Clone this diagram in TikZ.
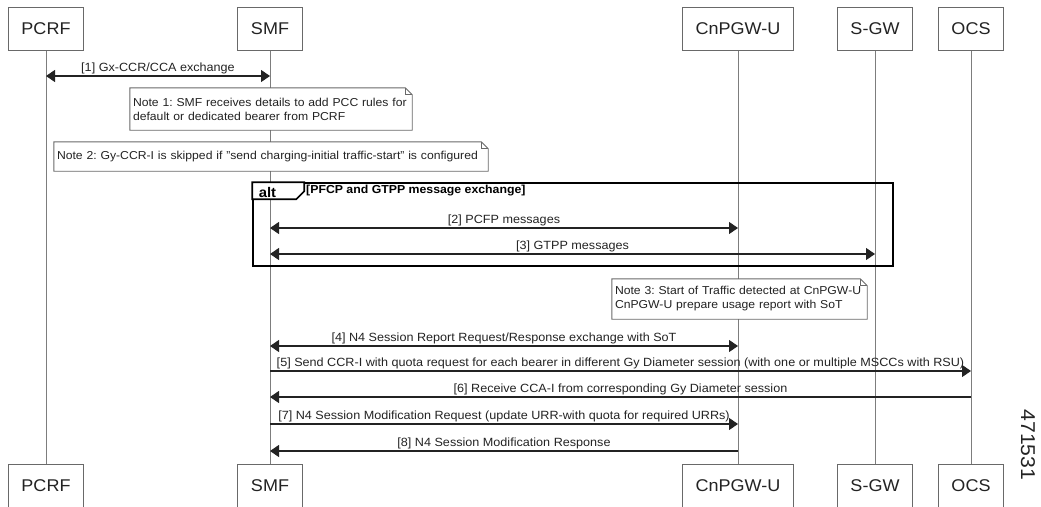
\documentclass[tikz,border=0pt]{standalone}
\usepackage{fontspec}
\setmainfont[FakeStretch=1.06]{Liberation Sans}
\usetikzlibrary{arrows.meta, positioning, calc}
\definecolor{LifeGray}{RGB}{125,125,125}
\definecolor{BoxGray}{RGB}{105,105,105}
\definecolor{InkDark}{RGB}{35,35,35}
\frenchspacing

\begin{document}
\begin{tikzpicture}[x=1pt, y=-1pt,
    actor/.style={draw=BoxGray, line width=1pt, fill=white, minimum height=43pt, inner xsep=13pt, text=InkDark, font=\fontsize{17}{20}\selectfont},
    lifeline/.style={LifeGray, line width=0.9pt},
    msg/.style={InkDark, line width=1.2pt, -{Triangle[length=9pt, width=12pt]}},
    msgboth/.style={InkDark, line width=1.2pt, {Triangle[length=9pt, width=12pt]}-{Triangle[length=9pt, width=12pt]}},
    lbl/.style={above, inner sep=1.5pt, text=InkDark, font=\fontsize{11.9}{13}\selectfont},
    note/.style={fill=white, inner xsep=3pt, inner ysep=2pt, align=left, text=InkDark, font=\fontsize{11.5}{14}\selectfont},
    noteline/.style={BoxGray, line width=0.9pt},
    altline/.style={black, line width=1.6pt}]
\useasboundingbox (0,0) rectangle (1041,506);

\node[actor] (pcrf) at (46,28.5) {PCRF};
\node[actor] (smf) at (270,28.5) {SMF};
\node[actor] (pgw) at (738,28.5) {CnPGW-U};
\node[actor] (sgw) at (875,28.5) {S-GW};
\node[actor] (ocs) at (971,28.5) {OCS};
\node[actor] (pcrfB) at (46,485.5) {PCRF};
\node[actor] (smfB) at (270,485.5) {SMF};
\node[actor] (pgwB) at (738,485.5) {CnPGW-U};
\node[actor] (sgwB) at (875,485.5) {S-GW};
\node[actor] (ocsB) at (971,485.5) {OCS};

\foreach \a in {pcrf, smf, pgw, sgw, ocs}
  \draw[lifeline] (\a.south) -- (\a B.north);

\draw[msgboth] (pcrf |- 0,76) -- node[lbl] {[1] Gx-CCR/CCA exchange} (smf |- 0,76);

\node[note, text width=276pt, minimum height=42pt] (note1) at (271,109) {Note 1: SMF receives details to add PCC rules for\\default or dedicated bearer from PCRF};
\node[note, text width=428pt, minimum height=29pt] (note2) at (271,156.5) {Note 2: Gy-CCR-I is skipped if "send charging-initial traffic-start" is configured};
\node[note, text width=249pt, minimum height=40pt] (note3) at (739.5,299) {Note 3: Start of Traffic detected at CnPGW-U\\CnPGW-U prepare usage report with SoT};
\foreach \n in {note1, note2, note3} {
  \draw[noteline] (\n.north west) -- ($(\n.north east)+(-7,0)$) -- ($(\n.north east)+(0,7)$) -- (\n.south east) -- (\n.south west) -- cycle;
  \draw[noteline] ($(\n.north east)+(-7,0)$) -- ++(0,7) -- ++(7,0);
}

\node[draw, altline, minimum width=640pt, minimum height=83pt, inner sep=0pt] (alt) at (573,224.5) {};
\draw[altline, fill=white] (alt.north west) -- ++(52,0) -- ++(0,9) -- ++(-8,8) -- ++(-44,0) -- cycle;
\node[font=\bfseries\fontsize{14}{16}\selectfont, inner sep=0pt] (altkey) at (267.5,192) {alt};
\node[font=\bfseries\fontsize{11.6}{13}\selectfont, anchor=west, inner sep=0pt] (guard) at (306,190.5) {[PFCP and GTPP message exchange]};

\draw[msgboth] (smf |- 0,228) -- node[lbl] {[2] PCFP messages} (pgw |- 0,228);
\draw[msgboth] (smf |- 0,254) -- node[lbl] {[3] GTPP messages} (sgw |- 0,254);

\draw[msgboth] (smf |- 0,346) -- node[lbl] {[4] N4 Session Report Request/Response exchange with SoT} (pgw |- 0,346);
\draw[msg] (smf |- 0,371) -- node[lbl] {[5] Send CCR-I with quota request for each bearer in different Gy Diameter session (with one or multiple MSCCs with RSU)} (ocs |- 0,371);
\draw[msg] (ocs |- 0,397) -- node[lbl] {[6] Receive CCA-I from corresponding Gy Diameter session} (smf |- 0,397);
\draw[msg] (smf |- 0,424) -- node[lbl] {[7] N4 Session Modification Request (update URR-with quota for required URRs)} (pgw |- 0,424);
\draw[msg] (pgw |- 0,451) -- node[lbl] {[8] N4 Session Modification Response} (smf |- 0,451);

\node[rotate=-90, text=InkDark, font=\fontsize{20}{22}\selectfont] (figid) at (1028,445) {471531};
\end{tikzpicture}
\end{document}
